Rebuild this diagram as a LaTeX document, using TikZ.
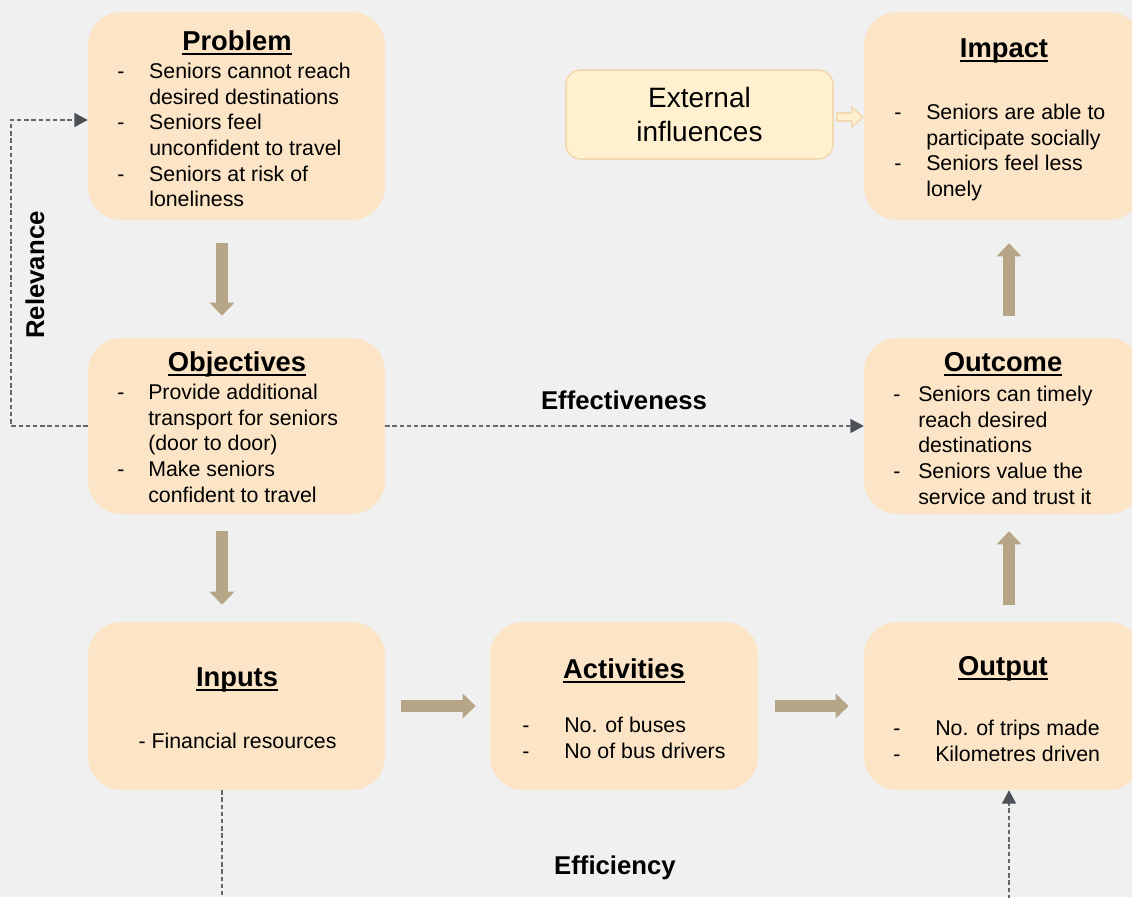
\documentclass[tikz,border=0pt]{standalone}
\usepackage{fontspec}
\setmainfont{Liberation Sans}
\usetikzlibrary{arrows.meta,calc}
\definecolor{bgc}{HTML}{F0F0F0}
\definecolor{peach}{HTML}{FCE4C6}
\definecolor{extfill}{HTML}{FFF1D0}
\definecolor{extline}{HTML}{F3D9B1}
\definecolor{tanc}{HTML}{B7A587}
\definecolor{dashc}{HTML}{666666}
\definecolor{tipc}{HTML}{4B5156}
\newcommand\ttl[1]{\setbox0\hbox{#1}\rlap{\rule[-3.8pt]{\wd0}{1.9pt}}\box0}
\newcommand\dsh[1]{\makebox[#1][l]{-}}
\tikzset{
  box/.style={fill=peach, draw=none, rounded corners=25pt, inner sep=0pt},
  title/.style={font=\fontsize{20.5}{24}\selectfont\bfseries, anchor=base, inner sep=0pt},
  list/.style={font=\fontsize{16}{19.3}\selectfont, align=left, anchor=north west, inner sep=0pt},
  lbl/.style={font=\fontsize{19.3}{22}\selectfont\bfseries, inner sep=0pt},
  fat/.style={draw=tanc, line width=9pt, -{Triangle[width=18pt,length=9.75pt]}},
  dasharrow/.style={draw=dashc, line width=0.9pt, dash pattern=on 3.2pt off 2.2pt,
    -{Triangle[width=10.5pt,length=10pt,color=tipc]}},
  hollow/.style={fill=extfill, draw=extline, line width=1.2pt, line join=miter}
}
\begin{document}
\begin{tikzpicture}[x=0.75pt,y=-0.75pt]
\useasboundingbox (0,0) rectangle (1132,897);
\fill[bgc] (0,0) rectangle (1132,897);

% boxes
\node[box, minimum width=222.75pt, minimum height=156pt] (problem) at (236.5,116) {};
\node[box, minimum width=208.5pt, minimum height=156pt] (impact) at (1003,116) {};
\node[box, minimum width=222.75pt, minimum height=132pt] (objectives) at (236.5,426) {};
\node[box, minimum width=208.5pt, minimum height=132pt] (outcome) at (1003,426) {};
\node[box, minimum width=222.75pt, minimum height=126pt] (inputs) at (236.5,706) {};
\node[box, minimum width=201pt, minimum height=126pt] (activities) at (624,706) {};
\node[box, minimum width=208.5pt, minimum height=126pt] (output) at (1003,706) {};
\node[fill=extfill, draw=extline, line width=1.2pt, rounded corners=11pt,
      minimum width=200.25pt, minimum height=66.75pt, align=center,
      font=\fontsize{21}{25.5}\selectfont] (ext) at (699.5,114.5) {External\\influences};

% titles
\node[title] (problemT) at (237,50) {\ttl{Problem}};
\node[title] (impactT) at (1004,57) {\ttl{Impact}};
\node[title] (objectivesT) at (237,371) {\ttl{Objectives}};
\node[title] (outcomeT) at (1003,371) {\ttl{Outcome}};
\node[title] (inputsT) at (237,686) {\ttl{Inputs}};
\node[title] (activitiesT) at (624,678) {\ttl{Activities}};
\node[title] (outputT) at (1003,675) {\ttl{Output}};

% lists
\node[list] (problemL) at (117,60) {\strut\dsh{24pt}Seniors cannot reach\\\hspace*{24pt}desired destinations\\\dsh{24pt}Seniors feel\\\hspace*{24pt}unconfident to travel\\\dsh{24pt}Seniors at risk of\\\hspace*{24pt}loneliness};
\node[list] (impactL) at (894,101) {\strut\dsh{24pt}Seniors are able to\\\hspace*{24pt}participate socially\\\dsh{24pt}Seniors feel less\\\hspace*{24pt}lonely};
\node[list] (objectivesL) at (117,381) {\strut\dsh{23.25pt}Provide additional\\\hspace*{23.25pt}transport for seniors\\\hspace*{23.25pt}(door to door)\\\dsh{23.25pt}Make seniors\\\hspace*{23.25pt}confident to travel};
\node[list] (outcomeL) at (893,383) {\strut\dsh{18.75pt}Seniors can timely\\\hspace*{18.75pt}reach desired\\\hspace*{18.75pt}destinations\\\dsh{18.75pt}Seniors value the\\\hspace*{18.75pt}service and trust it};
\node[list, anchor=base] (inputsL) at (237.5,748) {- Financial resources};
\node[list] (activitiesL) at (522,714) {\strut\dsh{31.5pt}No. of buses\\\dsh{31.5pt}No of bus drivers};
\node[list] (outputL) at (893,717) {\strut\dsh{31.5pt}No. of trips made\\\dsh{31.5pt}Kilometres driven};

% fat arrows
\draw[fat] ($(problem.south)+(-14.5,23)$) -- ($(objectives.north)+(-14.5,-22)$);
\draw[fat] ($(objectives.south)+(-14.5,17)$) -- ($(inputs.north)+(-14.5,-17)$);
\draw[fat] ($(inputs.east)+(16,0)$) -- ($(activities.west)+(-14,0)$);
\draw[fat] ($(activities.east)+(17,0)$) -- ($(output.west)+(-15,0)$);
\draw[fat] ($(output.north)+(6,-17)$) -- ($(outcome.south)+(6,17)$);
\draw[fat] ($(outcome.north)+(6,-22)$) -- ($(impact.south)+(6,23)$);

% hollow arrow
\draw[hollow] ($(ext.east)+(3,-1.5)$) -- ++(15,0) -- ++(0,-6) -- ++(11,10) -- ++(-11,10) -- ++(0,-6) -- ++(-15,0) -- cycle;

% dashed connectors
\coordinate (relcorner) at (11,426);
\draw[dasharrow] (objectives.west) -- (relcorner) |- ($(problem.west)+(0,4)$);
\draw[dasharrow] (objectives.east) -- (outcome.west);
\coordinate (effcorner) at (222,930);
\draw[dasharrow] ($(inputs.south)+(-14.5,0)$) -- (effcorner) -| ($(output.south)+(6,0)$);

% labels
\node[lbl, rotate=90] (relevance) at (35,275) {Relevance};
\node[lbl] (effectiveness) at (624,400) {Effectiveness};
\node[lbl] (efficiency) at (615,868) {Efficiency};
\end{tikzpicture}
\end{document}
